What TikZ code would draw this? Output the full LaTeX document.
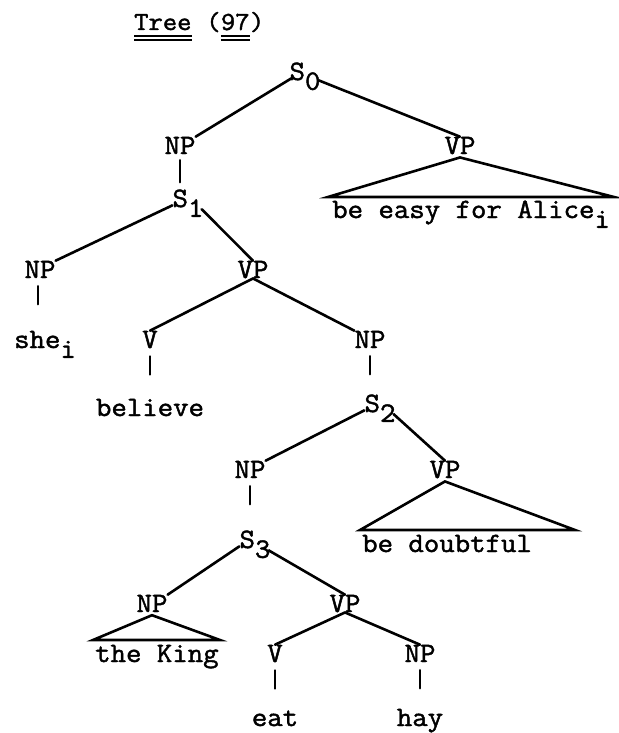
\documentclass[tikz,border=0pt]{standalone}
\usepackage{fontspec}
\newfontfamily\tw{Latin Modern Mono}[FakeBold=1.6, FakeStretch=1.07]
\tikzset{
  lbl/.style={font=\tw\fontsize{28}{30}\selectfont, inner sep=0pt, anchor=base},
  ttl/.style={font=\tw\fontsize{26}{28}\selectfont, inner sep=0pt, anchor=base west},
  edge/.style={line width=2.6pt, line cap=round},
  uline/.style={line width=2.2pt},
}
\newcommand{\sbx}[1]{\raisebox{-0.35em}{#1}}
\begin{document}
\begin{tikzpicture}[x=1pt,y=-1pt]
\useasboundingbox (0,0) rectangle (618,733);
% title
\node[ttl] (tree) at (134,30) {Tree};
\node[ttl] (paren) at (tree.base east) {\ (};
\node[ttl] (num) at (paren.base east) {97};
\node[ttl] (close) at (num.base east) {)};
\draw[uline] ([yshift=-6pt]tree.base west) -- ([yshift=-6pt]tree.base east);
\draw[uline] ([yshift=-10pt]tree.base west) -- ([yshift=-10pt]tree.base east);
\draw[line width=1.2pt] ([yshift=-6pt]num.base west) -- ([yshift=-6pt]num.base east);
\draw[uline] ([yshift=-10pt]num.base west) -- ([yshift=-10pt]num.base east);
% level 0
\node[lbl] (S0) at (305,80) {S\sbx{0}};
\node[lbl] (NPa) at (180,154) {NP};
\node[lbl] (VPa) at (460,154) {VP};
\draw[edge] (S0.north west) ++(2,16) coordinate (s0l) -- (NPa.north east);
\draw[edge] (S0.east) ++(-2,4) coordinate (s0r) -- (VPa.north);
% VP triangle
\coordinate (VPaB1) at (328,197);
\coordinate (VPaB2) at (614,197);
\draw[edge] (VPa.south) ++(0,3) coordinate (vpaapex) -- (VPaB1) -- (VPaB2) -- cycle;
\node[lbl, anchor=base west] (alice) at (332,218) {be easy for Alice\sbx{i}};
% S1
\node[lbl] (S1) at (188,207) {S\sbx{1}};
\draw[edge] (NPa.south) ++(0,6) coordinate (npa1) -- ++(0,22) coordinate (npa2);
\node[lbl] (NPb) at (40,278) {NP};
\node[lbl] (VPb) at (253,278) {VP};
\draw[edge] (S1.north west) ++(0,16) -- (NPb.north east);
\draw[edge] (S1.east) ++(-2,6) -- (VPb.north);
\node[lbl] (she) at (45,348) {she\sbx{i}};
\draw[edge] (NPb.south) ++(-2,8) -- ++(0,18);
\node[lbl] (Vb) at (150,348) {V};
\node[lbl] (NPc) at (370,348) {NP};
\draw[edge] (VPb.south) -- (Vb.north);
\draw[edge] (VPb.south) -- (NPc.north west);
\node[lbl] (believe) at (150,416) {believe};
\draw[edge] (Vb.south) ++(0,8) -- ++(0,18);
\draw[edge] (NPc.south) ++(0,8) -- ++(0,18);
% S2
\node[lbl] (S2) at (380,412) {S\sbx{2}};
\node[lbl] (NPd) at (250,478) {NP};
\node[lbl] (VPd) at (445,478) {VP};
\draw[edge] (S2.north west) ++(0,16) -- (NPd.north east);
\draw[edge] (S2.east) ++(-2,6) -- (VPd.north);
\draw[edge] (VPd.south) ++(0,3) -- (360,530) -- (575,530) -- cycle;
\node[lbl, anchor=base west] (doubt) at (362,552) {be doubtful};
\draw[edge] (NPd.south) ++(0,8) -- ++(0,18);
% S3
\node[lbl] (S3) at (255,548) {S\sbx{3}};
\node[lbl] (NPe) at (152,612) {NP};
\node[lbl] (VPe) at (345,612) {VP};
\draw[edge] (S3.north west) ++(0,16) -- (NPe.north east);
\draw[edge] (S3.east) ++(-2,6) -- (VPe.north);
\draw[edge] (NPe.south) ++(0,3) -- (93,640) -- (220,640) -- cycle;
\node[lbl, anchor=base west] (king) at (95,662) {the King};
\node[lbl] (Ve) at (275,662) {V};
\node[lbl] (NPf) at (420,662) {NP};
\draw[edge] (VPe.south) -- (Ve.north);
\draw[edge] (VPe.south) -- (NPf.north);
\draw[edge] (Ve.south) ++(0,8) -- ++(0,18);
\draw[edge] (NPf.south) ++(0,8) -- ++(0,18);
\node[lbl] (eat) at (275,726) {eat};
\node[lbl] (hay) at (420,726) {hay};
\end{tikzpicture}
\end{document}
